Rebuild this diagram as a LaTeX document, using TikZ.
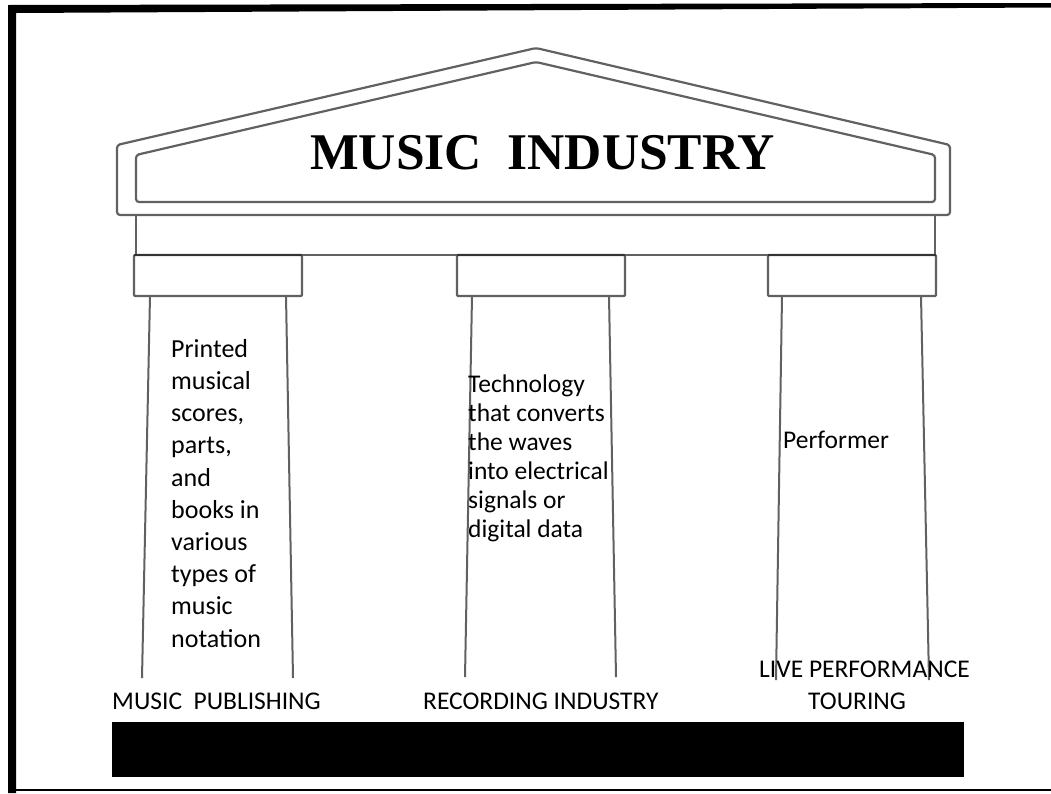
\documentclass[tikz,border=0pt]{standalone}
\usepackage{fontspec}
\setmainfont{Carlito}
\newfontfamily\titlefont{Liberation Serif}
\begin{document}
\begin{tikzpicture}[x=1pt,y=-1pt, line join=round,
  arch/.style={draw=black!62, line width=2.2pt, rounded corners=3pt},
  archline/.style={draw=black!62, line width=2.2pt},
  capline/.style={draw=black!80, line width=2.4pt},
  shaft/.style={draw=black!62, line width=2pt},
  bodyl/.style={font=\fontsize{26}{32.2}\selectfont, inner sep=0pt, anchor=base west, align=left},
  bodyc/.style={font=\fontsize{25.5}{29}\selectfont, inner sep=0pt, anchor=base west, align=left},
  lab/.style={font=\fontsize{25.5}{30}\selectfont, inner sep=0pt, anchor=base west}]

\useasboundingbox (0,0) rectangle (1051,793);
\fill[white] (0,0) rectangle (1051,793);

% frame
\fill[black] (8,5) -- (1051,3) -- (1051,7.5) -- (16,13) -- (16,793) -- (8,793) -- cycle;
\draw[black, line width=2pt] (8,790) -- (1051,790);

% roof (pediment)
\draw[arch] (117,215) -- (117,145) -- (536,48) -- (950,145) -- (950,215) -- cycle;
\draw[arch] (136,202) -- (136,155) -- (536,62) -- (935,155) -- (935,202) -- cycle;

% frieze
\draw[archline] (136,215) -- (136,255);
\draw[archline] (935,215) -- (935,255);
\draw[archline] (136,255) -- (935,255);

% capitals
\draw[arch, rounded corners=1pt] (134,255) rectangle (302,296);
\draw[arch, rounded corners=1pt] (457,255) rectangle (625,296);
\draw[arch, rounded corners=1pt] (768,255) rectangle (936,296);
\draw[capline] (134,255) -- (302,255);
\draw[capline] (457,255) -- (625,255);
\draw[capline] (768,255) -- (936,255);

% shafts
\draw[shaft] (150,296) -- (142,678);
\draw[shaft] (286,296) -- (293,678);
\draw[shaft] (472,296) -- (465,677);
\draw[shaft] (609,296) -- (616,677);
\draw[shaft] (782,296) -- (776,680);
\draw[shaft] (921,296) -- (929,680);

% base
\fill[black] (112,722) rectangle (964,777);

% texts
\node[font=\titlefont\bfseries\fontsize{51.5}{55}\selectfont, inner sep=0pt, anchor=base west] (title) at (310,169) {MUSIC\ \ INDUSTRY};

\node[bodyl] (ptext) at (171,647) {Printed\\musical\\scores,\\parts,\\and\\books in\\various\\types of\\music\\notation};
\node[bodyc] (rtext) at (468,537) {Technology\\that converts\\the waves\\into electrical\\signals or\\digital data};
\node[bodyc] (ltext) at (783,448) {Performer};

\node[lab] (pub) at (112,709) {MUSIC\ \ PUBLISHING};
\node[lab] (rec) at (423,709) {RECORDING INDUSTRY};
\node[lab] (live) at (759,677) {LIVE PERFORMANCE};
\node[lab] (tour) at (808,709) {TOURING};
\end{tikzpicture}
\end{document}
